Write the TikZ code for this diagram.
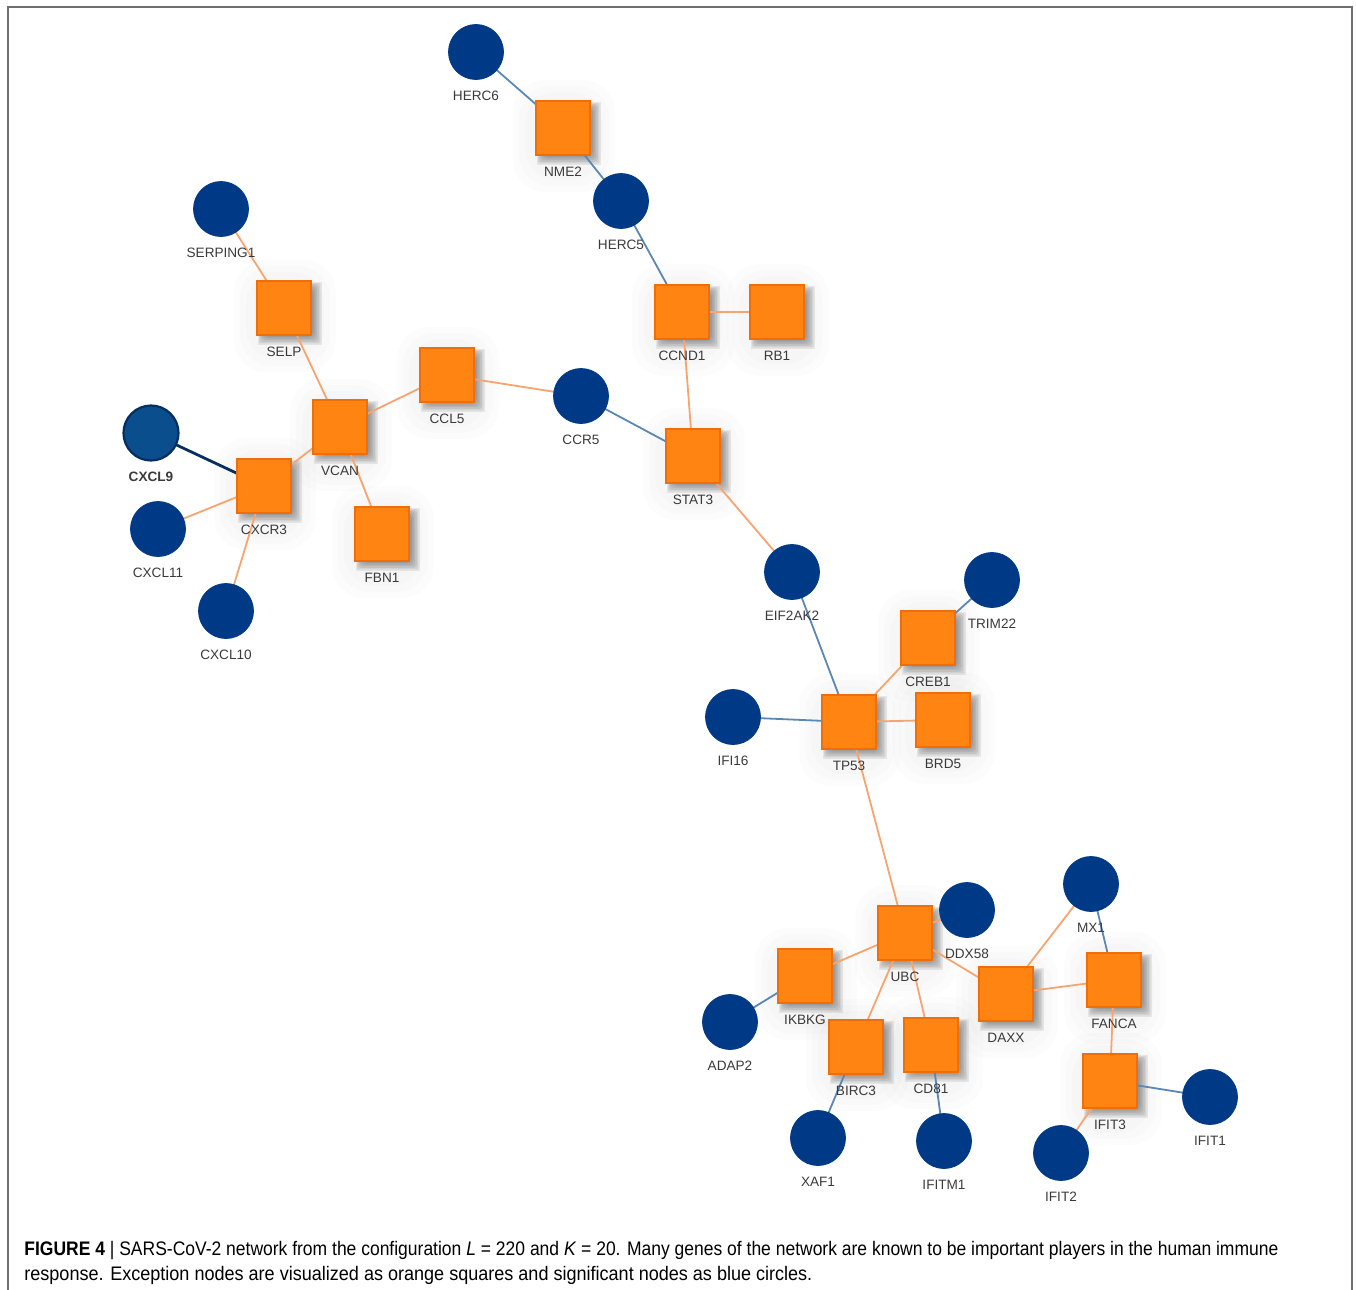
\documentclass[tikz,border=0pt]{standalone}
\usepackage{graphicx}
\usepackage{fontspec}
\setmainfont{Liberation Sans}
\definecolor{sqfill}{HTML}{FF8412}
\definecolor{sqdraw}{HTML}{F06E0A}
\definecolor{navy}{HTML}{003A87}
\definecolor{navyl}{HTML}{0A4E8E}
\definecolor{navyd}{HTML}{062F60}
\definecolor{bedge}{HTML}{5B87B5}
\definecolor{oedge}{HTML}{F7A46E}
\definecolor{labc}{HTML}{3A3A3A}
\definecolor{framec}{HTML}{6E6E6E}
\pgfdeclarelayer{halolayer}
\pgfdeclarelayer{edgelayer}
\pgfsetlayers{halolayer,edgelayer,main}
\tikzset{
  sqn/.style={rectangle, minimum size=27pt, inner sep=0pt, fill=sqfill, draw=sqdraw, line width=0.6pt},
  cin/.style={circle, minimum size=27.5pt, inner sep=0pt, fill=navy, draw=navy, line width=0.4pt},
  cin9/.style={circle, minimum size=27.5pt, inner sep=0pt, fill=navyl, draw=navyd, line width=1.1pt},
  lab/.style={font=\fontsize{6.8}{8}\selectfont, text=labc, inner sep=0pt},
  lab9/.style={font=\fontsize{6.8}{8}\selectfont\bfseries, text=labc, inner sep=0pt},
  halo/.style={fill=black, opacity=0.012, rounded corners=16pt},
  shd/.style={fill=black, opacity=0.075},
  be/.style={draw=bedge, line width=0.9pt},
  oe/.style={draw=oedge, line width=0.9pt},
  de/.style={draw=navyd, line width=1.4pt},
}
\newcommand\sqg[4]{%
  \begin{pgfonlayer}{halolayer}
    \fill[halo] (#2-50,#3-48) rectangle (#2+52,#3+64);
    \fill[halo] (#2-44,#3-42) rectangle (#2+46,#3+58);
    \fill[halo] (#2-38,#3-36) rectangle (#2+40,#3+52);
    \foreach \k in {0,...,6}{\fill[shd, rounded corners=\k*0.7pt] (#2-26+\k,#3-26+\k) rectangle (#2+38-1.6*\k,#3+37-1.6*\k);}
  \end{pgfonlayer}
  \node[sqn] (#1) at (#2,#3) {};
  \node[lab] (#1-l) at (#2,#3+44) {#4};}
\newcommand\cig[4]{%
  \node[cin] (#1) at (#2,#3) {};
  \node[lab] (#1-l) at (#2,#3+44) {#4};}
\begin{document}
\begin{tikzpicture}[x=0.5pt, y=-0.5pt]
\useasboundingbox (0,0) rectangle (1356,1290);
\draw[framec, line width=1pt] (8,1290) -- (8,7) -- (1352,7) -- (1352,1290);

\cig{HERC6}{476}{52}{HERC6}
\sqg{NME2}{563}{128}{NME2}
\cig{HERC5}{621}{201}{HERC5}
\cig{SERPING1}{221}{209}{SERPING1}
\sqg{SELP}{284}{308}{SELP}
\sqg{CCND1}{682}{312}{CCND1}
\sqg{RB1}{777}{312}{RB1}
\sqg{CCL5}{447}{375}{CCL5}
\cig{CCR5}{581}{396}{CCR5}
\sqg{VCAN}{340}{427}{VCAN}
\node[cin9] (CXCL9) at (151,433) {};
\node[lab9] (CXCL9-l) at (151,477) {CXCL9};
\sqg{CXCR3}{264}{486}{CXCR3}
\sqg{STAT3}{693}{456}{STAT3}
\cig{CXCL11}{158}{529}{CXCL11}
\sqg{FBN1}{382}{534}{FBN1}
\cig{CXCL10}{226}{611}{CXCL10}
\cig{EIF2AK2}{792}{572}{EIF2AK2}
\cig{TRIM22}{992}{580}{TRIM22}
\sqg{CREB1}{928}{638}{CREB1}
\cig{IFI16}{733}{717}{IFI16}
\sqg{TP53}{849}{722}{TP53}
\sqg{BRD5}{943}{720}{BRD5}
\sqg{UBC}{905}{933}{UBC}
\cig{DDX58}{967}{910}{DDX58}
\cig{MX1}{1091}{884}{MX1}
\sqg{IKBKG}{805}{976}{IKBKG}
\sqg{DAXX}{1006}{994}{DAXX}
\sqg{FANCA}{1114}{980}{FANCA}
\cig{ADAP2}{730}{1022}{ADAP2}
\sqg{BIRC3}{856}{1047}{BIRC3}
\sqg{CD81}{931}{1045}{CD81}
\sqg{IFIT3}{1110}{1081}{IFIT3}
\cig{IFIT1}{1210}{1097}{IFIT1}
\cig{XAF1}{818}{1138}{XAF1}
\cig{IFITM1}{944}{1141}{IFITM1}
\cig{IFIT2}{1061}{1153}{IFIT2}

\begin{pgfonlayer}{edgelayer}
\draw[be] (HERC6.center) -- (NME2.center);
\draw[be] (NME2.center) -- (HERC5.center);
\draw[be] (HERC5.center) -- (CCND1.center);
\draw[oe] (CCND1.center) -- (RB1.center);
\draw[oe] (CCND1.center) -- (STAT3.center);
\draw[be] (CCR5.center) -- (STAT3.center);
\draw[oe] (CCL5.center) -- (CCR5.center);
\draw[oe] (SERPING1.center) -- (SELP.center);
\draw[oe] (SELP.center) -- (VCAN.center);
\draw[oe] (VCAN.center) -- (CCL5.center);
\draw[oe] (VCAN.center) -- (CXCR3.center);
\draw[oe] (VCAN.center) -- (FBN1.center);
\draw[de] (CXCL9.center) -- (CXCR3.center);
\draw[oe] (CXCL11.center) -- (CXCR3.center);
\draw[oe] (CXCL10.center) -- (CXCR3.center);
\draw[oe] (STAT3.center) -- (EIF2AK2.center);
\draw[be] (EIF2AK2.center) -- (TP53.center);
\draw[be] (TRIM22.center) -- (CREB1.center);
\draw[oe] (CREB1.center) -- (TP53.center);
\draw[be] (IFI16.center) -- (TP53.center);
\draw[oe] (TP53.center) -- (BRD5.center);
\draw[oe] (TP53.center) -- (UBC.center);
\draw[oe] (UBC.center) -- (DDX58.center);
\draw[oe] (UBC.center) -- (IKBKG.center);
\draw[oe] (UBC.center) -- (BIRC3.center);
\draw[oe] (UBC.center) -- (CD81.center);
\draw[oe] (UBC.center) -- (DAXX.center);
\draw[be] (IKBKG.center) -- (ADAP2.center);
\draw[be] (BIRC3.center) -- (XAF1.center);
\draw[be] (CD81.center) -- (IFITM1.center);
\draw[oe] (DAXX.center) -- (MX1.center);
\draw[oe] (DAXX.center) -- (FANCA.center);
\draw[be] (MX1.center) -- (FANCA.center);
\draw[oe] (FANCA.center) -- (IFIT3.center);
\draw[be] (IFIT3.center) -- (IFIT1.center);
\draw[oe] (IFIT3.center) -- (IFIT2.center);
\end{pgfonlayer}

\node[anchor=base west, inner sep=0pt, font=\fontsize{9.8}{12}\selectfont, text=black] (cap1) at (24,1255)
  {\resizebox{627pt}{\height}{\textbf{FIGURE 4} | SARS-CoV-2 network from the configuration \textit{L} = 220 and \textit{K} = 20. Many genes of the network are known to be important players in the human immune}};
\node[anchor=base west, inner sep=0pt, font=\fontsize{9.8}{12}\selectfont, text=black] (cap2) at (24,1280)
  {\resizebox{394pt}{\height}{response. Exception nodes are visualized as orange squares and significant nodes as blue circles.}};
\end{tikzpicture}
\end{document}
